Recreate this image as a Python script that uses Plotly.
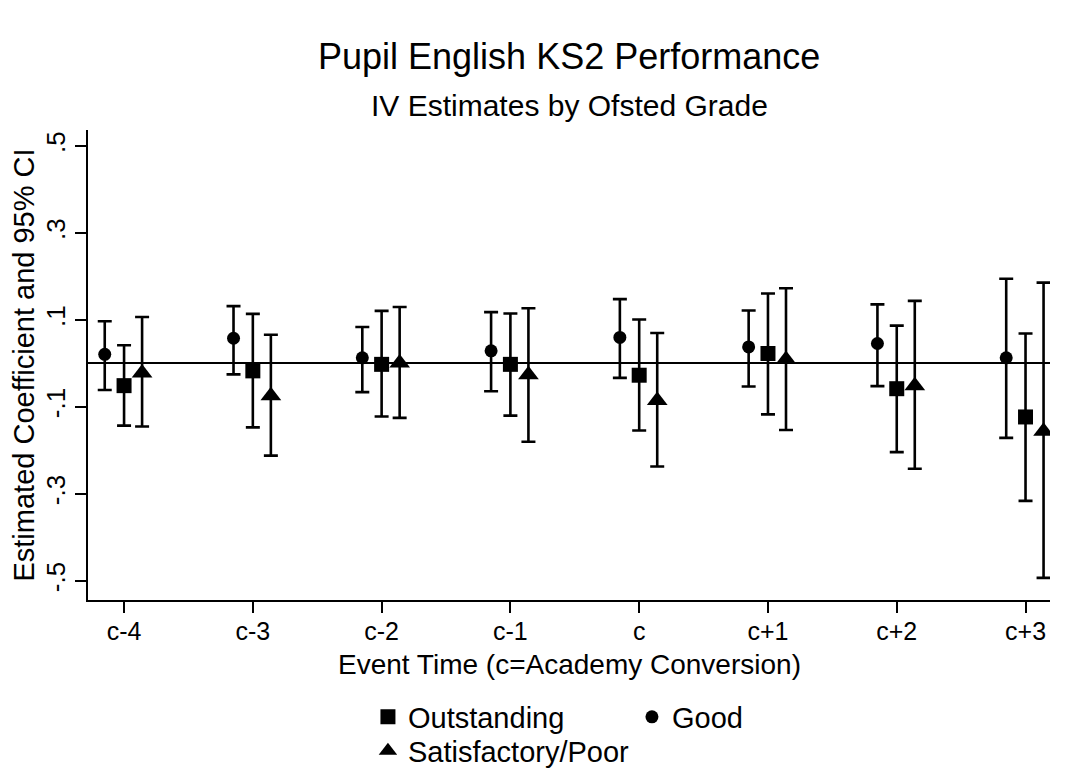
import plotly.graph_objects as go

periods = ["c-4", "c-3", "c-2", "c-1", "c", "c+1", "c+2", "c+3"]

good_est = [0.021, 0.058, 0.013, 0.029, 0.060, 0.038, 0.046, 0.013]
good_lo = [-0.061, -0.025, -0.066, -0.064, -0.033, -0.053, -0.052, -0.171]
good_hi = [0.097, 0.132, 0.084, 0.118, 0.148, 0.122, 0.136, 0.195]

outst_est = [-0.051, -0.017, -0.002, -0.002, -0.027, 0.023, -0.058, -0.123]
outst_lo = [-0.143, -0.147, -0.122, -0.120, -0.154, -0.117, -0.204, -0.316]
outst_hi = [0.042, 0.114, 0.121, 0.115, 0.101, 0.161, 0.087, 0.069]

sat_est = [-0.022, -0.074, 0.001, -0.026, -0.085, 0.009, -0.051, -0.156]
sat_lo = [-0.145, -0.212, -0.125, -0.180, -0.237, -0.153, -0.242, -0.493]
sat_hi = [0.107, 0.066, 0.130, 0.127, 0.070, 0.173, 0.144, 0.186]

y_ticks = [-0.5, -0.3, -0.1, 0.1, 0.3, 0.5]
y_labels = ["-.5", "-.3", "-.1", ".1", ".3", ".5"]

FONT = "Liberation Sans, Arial, sans-serif"

# the page body has an 8px margin, so the figure is drawn 8px smaller
W, H = 1071, 770
PLOT_BOTTOM, PLOT_H = 592, 470


def add_series(fig, name, est, lo, hi, offset, symbol, size, legend):
    xs = [i + offset for i in range(len(periods))]
    fig.add_trace(
        go.Scatter(
            x=xs,
            y=est,
            mode="markers",
            name=name,
            legend=legend,
            marker=dict(symbol=symbol, size=size, color="black"),
            error_y=dict(
                type="data",
                symmetric=False,
                array=[h - e for h, e in zip(hi, est)],
                arrayminus=[e - l for e, l in zip(est, lo)],
                color="black",
                thickness=2.6,
                width=7,
            ),
        )
    )


fig = go.Figure()
add_series(fig, "Outstanding", outst_est, outst_lo, outst_hi, 0.0, "square", 15, "legend")
add_series(fig, "Good", good_est, good_lo, good_hi, -0.15, "circle", 13, "legend")
add_series(fig, "Satisfactory/Poor", sat_est, sat_lo, sat_hi, 0.14, "triangle-up", 18, "legend2")

fig.add_annotation(
    text="Pupil English KS2 Performance",
    xref="paper", yref="paper", x=0.5, y=(PLOT_BOTTOM - 49) / PLOT_H,
    xanchor="center", yanchor="middle", showarrow=False,
    font=dict(size=36, color="black", family=FONT),
)
fig.add_annotation(
    text="IV Estimates by Ofsted Grade",
    xref="paper", yref="paper", x=0.5, y=(PLOT_BOTTOM - 98) / PLOT_H,
    xanchor="center", yanchor="middle", showarrow=False,
    font=dict(size=30, color="black", family=FONT),
)
fig.add_annotation(
    text="Event Time (c=Academy Conversion)",
    xref="paper", yref="paper", x=0.5, y=(PLOT_BOTTOM - 656) / PLOT_H,
    xanchor="center", yanchor="middle", showarrow=False,
    font=dict(size=28, color="black", family=FONT),
)

fig.update_layout(
    width=W,
    height=H,
    margin=dict(l=80, r=29, t=122, b=178),
    paper_bgcolor="white",
    plot_bgcolor="white",
    font=dict(family=FONT, color="black"),
    showlegend=True,
    legend=dict(
        orientation="h",
        x=0.291, xanchor="left",
        yref="container", y=1 - 709 / H, yanchor="middle",
        entrywidth=219, entrywidthmode="pixels",
        font=dict(size=29, color="black"),
        bgcolor="rgba(0,0,0,0)",
    ),
    legend2=dict(
        orientation="h",
        x=0.291, xanchor="left",
        yref="container", y=1 - 743 / H, yanchor="middle",
        font=dict(size=29, color="black"),
        bgcolor="rgba(0,0,0,0)",
    ),
    xaxis=dict(
        range=[-0.28, 7.19],
        tickvals=list(range(len(periods))),
        ticktext=periods,
        ticks="outside", ticklen=11, tickwidth=1.5, tickcolor="black",
        ticklabelstandoff=-3,
        showline=True, linecolor="black", linewidth=1.5,
        showgrid=False, zeroline=False, automargin=False,
        tickfont=dict(size=25, color="black"),
    ),
    yaxis=dict(
        range=[-0.544, 0.537],
        tickvals=y_ticks,
        ticktext=y_labels,
        tickangle=-90,
        ticks="outside", ticklen=11, tickwidth=1.5, tickcolor="black",
        showline=True, linecolor="black", linewidth=1.5,
        showgrid=False, automargin=False,
        zeroline=True, zerolinecolor="black", zerolinewidth=2.2,
        tickfont=dict(size=26, color="black"),
        title=dict(text="Estimated Coefficient and 95% CI", font=dict(size=29), standoff=6),
    ),
)

fig.write_html("out.html")
